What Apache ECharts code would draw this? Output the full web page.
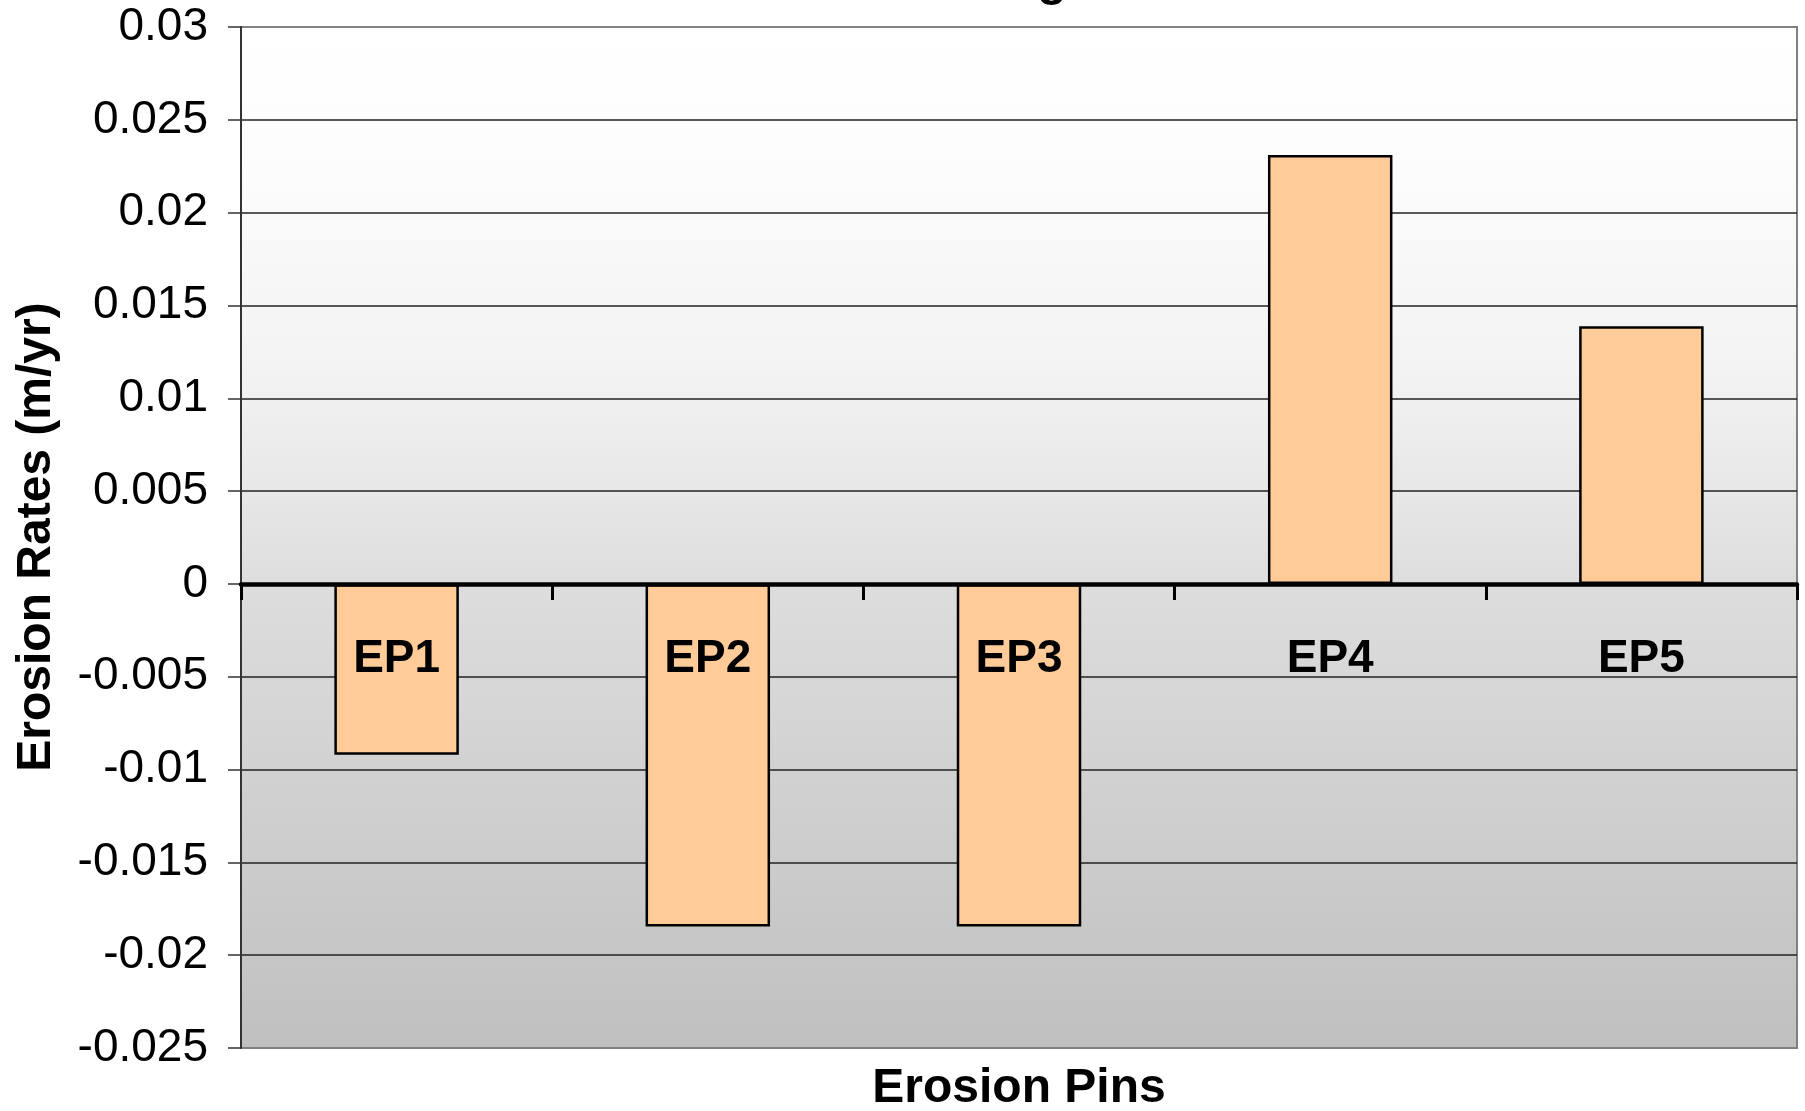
<!DOCTYPE html>
<html>
<head>
<meta charset="utf-8">
<script src="https://cdn.jsdelivr.net/npm/echarts@6/dist/echarts.min.js"></script>
<style>
html,body{margin:0;padding:0;background:#fff;}
#chart{width:1805px;height:1111px;}
</style>
</head>
<body>
<div id="chart"></div>
<script>
var categories = ['EP1', 'EP2', 'EP3', 'EP4', 'EP5'];
var erosionRates = [-0.0092, -0.01846, -0.01846, 0.0231, 0.01388];
var yMin = -0.025, yMax = 0.03, yStep = 0.005;
var yAxisTitle = 'Erosion Rates (m/yr)';
var xAxisTitle = 'Erosion Pins';
var titleVisible = 'g';

var FONT = 'Liberation Sans, Arial, Helvetica, sans-serif';
var GRID_TOP = 27, GRID_BOTTOM = 63, H = 1111;
var plotH = H - GRID_TOP - GRID_BOTTOM;
// distance from plot bottom up to the zero line (derived from the axis range)
var zeroOffset = plotH * (0 - yMin) / (yMax - yMin);

var chart = echarts.init(document.getElementById('chart'), null, {renderer: 'canvas'});
chart.setOption({
  animation: false,
  backgroundColor: '#ffffff',
  grid: {
    left: 241, right: 8, top: GRID_TOP, bottom: GRID_BOTTOM,
    outerBoundsMode: 'none',
    containLabel: false,
    show: true,
    borderColor: '#808080',
    borderWidth: 2,
    backgroundColor: new echarts.graphic.LinearGradient(0, 0, 0, 1, [
      {offset: 0, color: '#ffffff'},
      {offset: 0.15, color: '#fcfcfc'},
      {offset: 0.35, color: '#f2f2f2'},
      {offset: 0.55, color: '#dddddd'},
      {offset: 1, color: '#c0c0c0'}
    ])
  },
  xAxis: {
    type: 'category',
    data: categories,
    boundaryGap: true,
    position: 'bottom',
    offset: -zeroOffset,
    z: 10,
    axisLine: {onZero: false, lineStyle: {color: '#000', width: 4.5}},
    axisTick: {show: true, length: 16, inside: false, alignWithLabel: false, lineStyle: {color: '#000', width: 3}},
    axisLabel: {margin: 52, color: '#000', fontFamily: FONT, fontWeight: 'bold', fontSize: 46},
    splitLine: {show: false}
  },
  yAxis: {
    type: 'value',
    min: yMin, max: yMax, interval: yStep,
    axisLine: {show: true, lineStyle: {color: '#333', width: 2}},
    axisTick: {show: true, length: 13, lineStyle: {color: '#333', width: 1.5}},
    axisLabel: {margin: 33, color: '#000', fontFamily: FONT, fontSize: 46,
      formatter: function (v) { return String(+v.toFixed(3)); }},
    splitLine: {show: true, showMinLine: false, showMaxLine: false, lineStyle: {color: '#222', width: 1.5}}
  },
  series: [{
    type: 'bar',
    data: erosionRates,
    barWidth: '40%',
    itemStyle: {color: '#FFCC99', borderColor: '#000', borderWidth: 2.5},
    z: 3
  }],
  graphic: [
    {type: 'text', x: 37, y: 537, rotation: Math.PI / 2, z: 10,
      style: {text: yAxisTitle, fill: '#000', font: 'bold 48px ' + FONT, align: 'center', verticalAlign: 'middle'}},
    {type: 'text', x: 1019, y: 1089, z: 10,
      style: {text: xAxisTitle, fill: '#000', font: 'bold 48px ' + FONT, align: 'center', verticalAlign: 'middle'}},
    {type: 'text', x: 1052, y: -18, z: 10,
      style: {text: titleVisible, fill: '#000', font: 'bold 48px ' + FONT, align: 'center', verticalAlign: 'middle'}}
  ]
});
</script>
</body>
</html>
